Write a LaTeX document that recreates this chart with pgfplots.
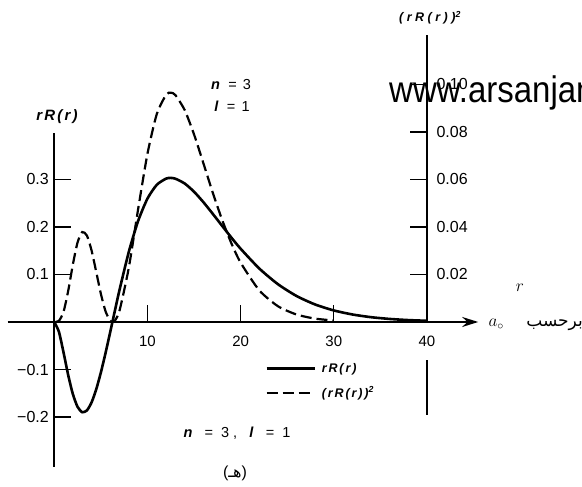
\documentclass[border=0pt]{standalone}
\usepackage{pgfplots}
\pgfplotsset{compat=1.18}
\usetikzlibrary{arrows.meta}
\usepackage{fontspec}
\setmainfont{Liberation Sans}
\newfontfamily\persian[Script=Arabic]{DejaVu Sans}
\newfontfamily\spaced[LetterSpace=15]{Liberation Sans}
\newfontfamily\spacedwide[LetterSpace=28]{Liberation Sans}
\TeXXeTstate=1

% radial function rR(r) of the n=3, l=1 state, r in units of a0
\pgfplotstableread{
r     f
0     0
0.5  -0.0208
1    -0.0648
1.5  -0.1123
2    -0.1522
2.5  -0.1787
3    -0.1899
3.5  -0.1862
4    -0.1694
4.5  -0.1418
5    -0.1063
5.5  -0.0654
6    -0.0215
6.24  0
6.5   0.0233
7     0.0673
8     0.1477
9     0.2128
10    0.2597
11    0.2887
12    0.3018
12.5  0.3032
13    0.3016
14    0.2914
15    0.2742
16    0.2523
17    0.2279
18    0.2027
19    0.1778
20    0.1542
22    0.1126
24    0.0796
26    0.0547
28    0.0368
30    0.0243
32    0.0158
34    0.0101
36    0.0064
38    0.0040
40    0.0025
}\rfunc

% probability density (rR(r))^2
\pgfplotstableread{
r     p
0     0
0.5   0.00046
1     0.00441
1.5   0.01324
2     0.02432
2.5   0.03353
3     0.03787
3.5   0.03640
4     0.03013
4.5   0.02111
5     0.01186
5.5   0.00449
6     0.00049
6.24  0
6.5   0.00057
7     0.00476
8     0.02291
9     0.04755
10    0.07082
11    0.08752
12    0.09564
12.5  0.09653
13    0.09551
14    0.08916
15    0.07894
16    0.06684
17    0.05454
18    0.04314
19    0.03319
20    0.02497
22    0.01331
24    0.00665
26    0.00314
28    0.00142
30    0.00062
}\rdens

\newcommand\sq{\textsuperscript{\bfseries 2}}

\begin{document}
\begin{tikzpicture}[x=1pt,y=1pt]
\path[use as bounding box] (0,0) rectangle (582,487);

% right-hand scale for (rR(r))^2
\begin{axis}[
  at={(7.7pt,165pt)}, anchor=south west,
  scale only axis, width=419.3pt, height=287pt,
  xmin=-5, xmax=40, ymin=0, ymax=0.1208,
  axis x line=none, axis y line=right,
  axis line style={line width=1.6pt, -},
  ytick={0.02,0.04,0.06,0.08,0.10},
  tick align=inside, major tick length=17pt,
  tick style={line width=1.2pt, black},
  yticklabel style={font=\fontsize{16}{16}\selectfont, xshift=6pt,
    /pgf/number format/.cd, fixed, fixed zerofill, precision=2, assume math mode=true},
  clip=false,
]
\addplot[black, line width=2.2pt, smooth, tension=0.4, dash pattern=on 11pt off 5pt] table[x=r, y=p] {\rdens};
\draw[line width=1.6pt] (axis cs:40,-0.0160) -- (axis cs:40,-0.0392);
\end{axis}

% left-hand scale for rR(r)
\begin{axis}[
  at={(7.7pt,20.1pt)}, anchor=south west,
  scale only axis, width=470.5pt, height=334pt,
  xmin=-5, xmax=45.5, ymin=-0.305, ymax=0.398,
  axis x line=middle, axis y line=middle,
  x axis line style={line width=1.6pt, -{Stealth[length=16pt, width=10pt]}},
  y axis line style={line width=1.6pt, -},
  xtick={10,20,30,40},
  ytick={-0.2,-0.1,0.1,0.2,0.3},
  yticklabels={−0.2,−0.1,0.1,0.2,0.3},
  /pgf/number format/assume math mode=true,
  tick align=inside, major tick length=17pt,
  tick style={line width=1.2pt, black},
  xticklabel style={font=\fontsize{15}{15}\selectfont, yshift=-11pt},
  yticklabel style={font=\fontsize{16}{16}\selectfont, xshift=-2pt},
  legend style={at={(axis cs:22.3,-0.078)}, anchor=north west, draw=none, fill=none,
    font=\fontsize{12.5}{12.5}\selectfont\spaced\bfseries\itshape, row sep=9pt,
    legend cell align=left},
  legend image code/.code={\draw[#1] (0pt,0pt) -- (48pt,0pt);},
  clip=false,
]
\addplot[black, line width=2.6pt, smooth, tension=0.4] table[x=r, y=f] {\rfunc};
\addlegendentry{\hspace{4pt}rR(r)}
\addlegendimage{black, line width=2.2pt, dash pattern=on 11pt off 5pt}
\addlegendentry{\hspace{4pt}(rR(r))\sq}
\end{axis}

% axis titles and annotations
\node[font=\fontsize{15}{15}\selectfont\spaced\bfseries\itshape] at (57,370) {rR(r)};
\node[font=\fontsize{12.5}{12.5}\selectfont\spacedwide\bfseries\itshape] at (430,469) {(rR(r))\sq};
\node[font=\fontsize{14.5}{14.5}\selectfont\spaced] at (231,402) {\textbf{\textit{n}} = 3};
\node[font=\fontsize{14.5}{14.5}\selectfont\spaced] at (232,381) {\textbf{\textit{l}} = 1};
\node[font=\fontsize{14.5}{14.5}\selectfont\spacedwide] at (237,54) {\textbf{\textit{n}} = 3, \textbf{\textit{l}} = 1};
\node[font=\fontsize{16}{16}\selectfont] at (235,14) {({\persian\beginR هـ\endR})};
\node[font=\fontsize{16}{16}\selectfont] at (520,199) {$r$};
\node[font=\fontsize{17}{17}\selectfont, anchor=base west] at (485,160) {$a_{\circ}$};
\node[font=\fontsize{17}{17}\selectfont\persian, anchor=base east, inner sep=0pt] at (583,160) {\beginR برحسب\endR};
\node[font=\fontsize{33}{33}\selectfont, anchor=west, inner sep=0pt, yscale=1.12] at (389,394) {www.arsanjan};
\end{tikzpicture}
\end{document}
